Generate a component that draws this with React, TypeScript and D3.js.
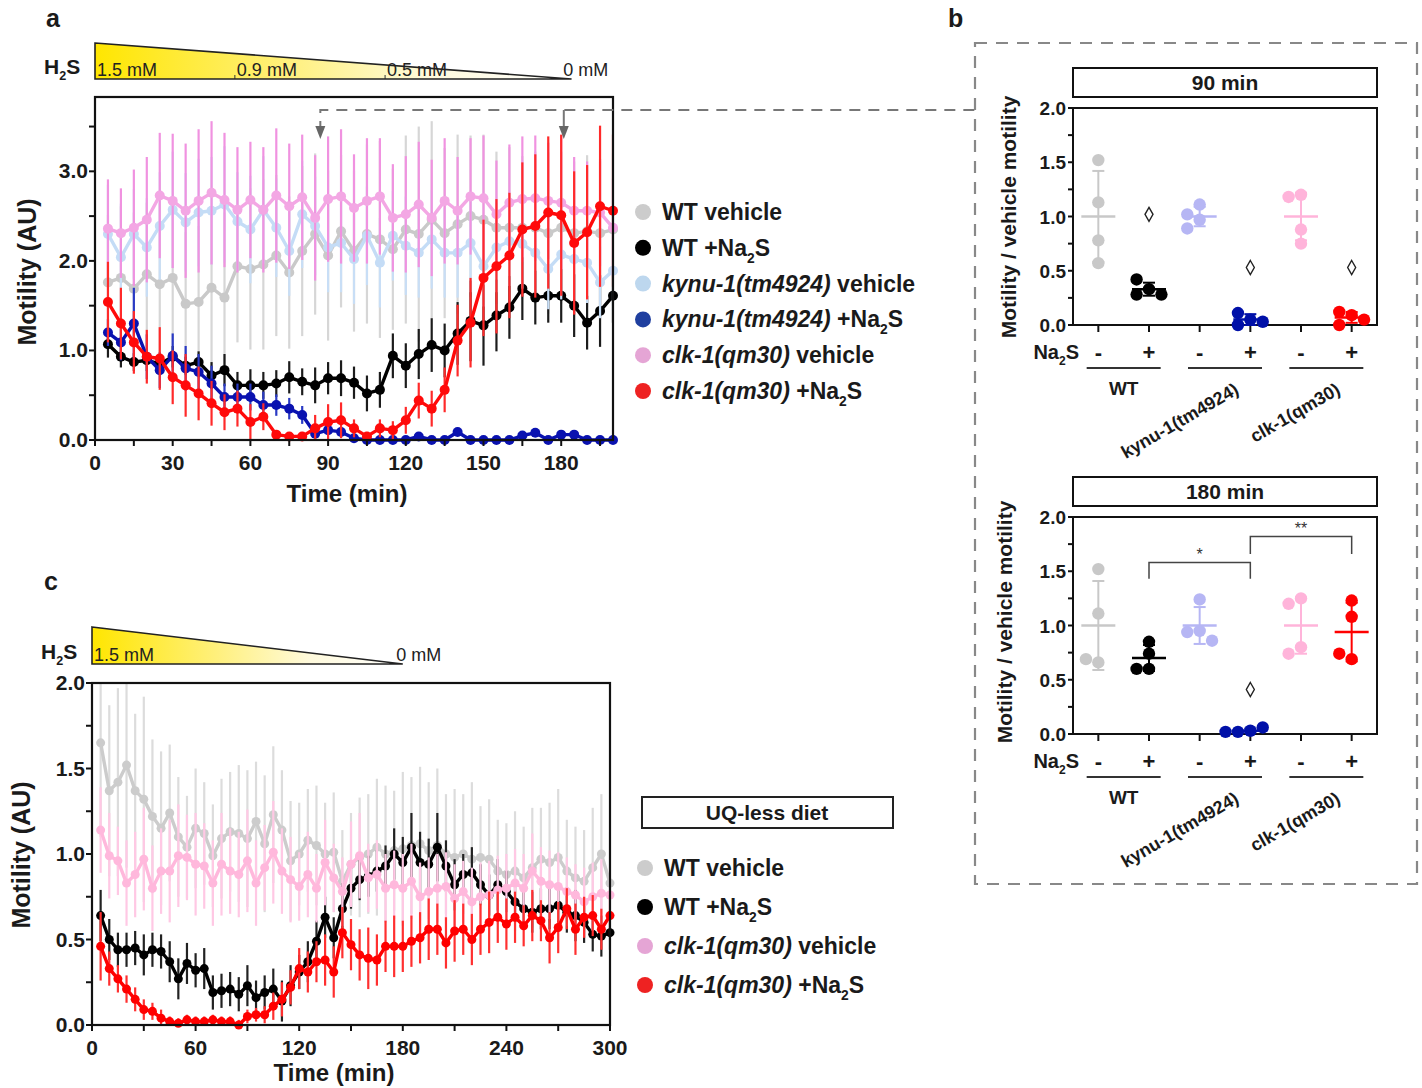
import React from "react";
import * as d3 from "d3";

const FONT = "'Liberation Sans', Arial, Helvetica, sans-serif";

// ---------- panel a : time course, 5 min bins ----------
const timesA = [5, 10, 15, 20, 25, 30, 35, 40, 45, 50, 55, 60, 65, 70, 75, 80, 85, 90, 95, 100,
  105, 110, 115, 120, 125, 130, 135, 140, 145, 150, 155, 160, 165, 170, 175, 180, 185, 190, 195, 200];

const wtVehA = [1.76, 1.81, 1.69, 1.85, 1.74, 1.81, 1.52, 1.54, 1.70, 1.59, 1.94, 1.91, 1.96, 2.06, 1.87, 2.11, 2.30, 2.06, 2.33, 2.11,
  2.30, 2.24, 2.13, 2.35, 2.30, 2.46, 2.31, 2.41, 2.50, 2.46, 2.37, 2.37, 2.37, 2.37, 2.31, 2.37, 2.31, 2.33, 2.31, 2.35];
const wtVehSemA = [0.75, 0.8, 0.85, 0.8, 0.9, 0.85, 0.8, 0.85, 0.9, 0.95, 0.85, 0.9, 0.95, 0.9, 0.85, 0.95, 0.9, 0.95, 0.85, 0.9,
  1.0, 1.1, 0.9, 1.05, 1.2, 1.1, 0.95, 1.0, 0.9, 0.95, 0.85, 0.9, 0.8, 0.85, 0.9, 0.85, 0.8, 0.85, 0.8, 0.85];

const wtNaA = [1.07, 0.93, 0.87, 0.89, 0.85, 0.93, 0.83, 0.87, 0.72, 0.78, 0.61, 0.61, 0.61, 0.63, 0.70, 0.65, 0.61, 0.69, 0.69, 0.64,
  0.52, 0.56, 0.94, 0.83, 0.96, 1.06, 1.00, 1.19, 1.33, 1.28, 1.39, 1.48, 1.69, 1.59, 1.61, 1.61, 1.50, 1.31, 1.44, 1.61];
const wtNaSemA = [0.15, 0.12, 0.1, 0.12, 0.1, 0.12, 0.1, 0.12, 0.15, 0.18, 0.15, 0.18, 0.15, 0.15, 0.18, 0.15, 0.2, 0.18, 0.2, 0.18,
  0.2, 0.2, 0.25, 0.25, 0.28, 0.3, 0.3, 0.35, 0.45, 0.45, 0.4, 0.35, 0.35, 0.3, 0.3, 0.3, 0.35, 0.3, 0.4, 0.3];

const kyVehA = [2.30, 2.04, 2.30, 2.15, 2.39, 2.57, 2.43, 2.54, 2.56, 2.63, 2.44, 2.35, 2.57, 2.37, 2.11, 2.52, 2.39, 2.15, 2.20, 2.02,
  2.28, 1.98, 2.28, 2.17, 2.09, 2.24, 2.09, 2.09, 2.20, 1.94, 2.15, 2.22, 2.19, 2.09, 1.91, 2.07, 2.02, 1.98, 1.76, 1.89];
const kyVehSemA = [0.55, 0.6, 0.5, 0.55, 0.6, 0.65, 0.55, 0.6, 0.6, 0.65, 0.55, 0.6, 0.6, 0.55, 0.5, 0.6, 0.55, 0.5, 0.55, 0.5,
  0.55, 0.5, 0.5, 0.55, 0.5, 0.55, 0.5, 0.5, 0.55, 0.45, 0.5, 0.5, 0.5, 0.45, 0.45, 0.5, 0.45, 0.45, 0.4, 0.45];

const kyNaA = [1.20, 1.09, 1.30, 0.93, 0.78, 0.94, 0.80, 0.76, 0.63, 0.48, 0.48, 0.48, 0.39, 0.39, 0.35, 0.28, 0.07, 0.11, 0.09, 0.02,
  0.00, 0.00, 0.00, 0.00, 0.04, 0.00, 0.00, 0.09, 0.00, 0.00, 0.00, 0.00, 0.05, 0.08, 0.00, 0.06, 0.06, 0.00, 0.00, 0.00];
const kyNaSemA = [0.15, 0.2, 0.4, 0.25, 0.2, 0.25, 0.25, 0.2, 0.2, 0.15, 0.15, 0.15, 0.15, 0.12, 0.12, 0.1, 0.05, 0.05, 0.05, 0.02,
  0.02, 0.02, 0.02, 0.02, 0.03, 0.02, 0.02, 0.03, 0.02, 0.02, 0.02, 0.02, 0.03, 0.03, 0.02, 0.03, 0.03, 0.02, 0.02, 0.02];

const clkVehA = [2.36, 2.31, 2.37, 2.46, 2.73, 2.67, 2.56, 2.67, 2.76, 2.68, 2.57, 2.68, 2.57, 2.73, 2.61, 2.71, 2.48, 2.69, 2.72, 2.59,
  2.67, 2.72, 2.48, 2.52, 2.63, 2.48, 2.67, 2.56, 2.72, 2.70, 2.52, 2.65, 2.69, 2.70, 2.67, 2.65, 2.56, 2.56, 2.54, 2.37];
const clkVehSemA = [0.55, 0.5, 0.65, 0.7, 0.7, 0.75, 0.75, 0.8, 0.8, 0.75, 0.7, 0.65, 0.7, 0.75, 0.7, 0.7, 0.7, 0.7, 0.75, 0.6,
  0.7, 0.65, 0.6, 0.65, 0.7, 0.65, 0.7, 0.6, 0.65, 0.7, 0.6, 0.65, 0.7, 0.7, 0.65, 0.75, 0.6, 0.55, 0.6, 0.55];

const clkNaA = [1.54, 1.30, 1.09, 0.93, 0.91, 0.70, 0.61, 0.52, 0.41, 0.31, 0.35, 0.20, 0.26, 0.06, 0.04, 0.04, 0.13, 0.20, 0.22, 0.13,
  0.04, 0.13, 0.11, 0.22, 0.44, 0.35, 0.56, 1.11, 1.31, 1.81, 1.94, 2.06, 2.35, 2.39, 2.54, 2.51, 2.20, 2.32, 2.61, 2.56];
const clkNaSemA = [0.45, 0.4, 0.35, 0.3, 0.35, 0.3, 0.35, 0.3, 0.25, 0.2, 0.2, 0.2, 0.15, 0.05, 0.04, 0.05, 0.15, 0.2, 0.2, 0.1,
  0.05, 0.1, 0.1, 0.15, 0.2, 0.2, 0.25, 0.4, 0.5, 0.65, 0.75, 0.7, 0.75, 0.8, 0.85, 0.9, 0.8, 0.75, 0.9, 0.85];

const h2sLabelsA = ["1.5 mM", "0.9 mM", "0.5 mM", "0 mM"];
const h2sTimesA = [0, 54, 112, 180];

// ---------- panel c : UQ-less diet, 5 min bins ----------
const timesC = [5, 10, 15, 20, 25, 30, 35, 40, 45, 50, 55, 60, 65, 70, 75, 80, 85, 90, 95, 100,
  105, 110, 115, 120, 125, 130, 135, 140, 145, 150, 155, 160, 165, 170, 175, 180, 185, 190, 195, 200,
  205, 210, 215, 220, 225, 230, 235, 240, 245, 250, 255, 260, 265, 270, 275, 280, 285, 290, 295, 300];

const wtVehC = [1.65, 1.37, 1.42, 1.52, 1.37, 1.32, 1.22, 1.15, 1.24, 1.10, 1.04, 1.15, 1.12, 0.99, 1.09, 1.13, 1.12, 1.09, 1.19, 1.06,
  1.23, 1.14, 0.96, 1.00, 1.08, 1.05, 1.00, 1.01, 0.84, 0.94, 0.98, 1.00, 1.04, 1.00, 1.02, 1.03, 1.05, 1.06, 1.02, 1.05,
  1.00, 0.98, 1.00, 0.97, 0.98, 0.97, 0.90, 0.88, 0.90, 0.86, 0.92, 0.97, 0.95, 0.98, 0.90, 0.86, 0.84, 0.92, 1.00, 0.83];
const wtVehSemC = [0.55, 0.5, 0.55, 0.6, 0.45, 0.6, 0.45, 0.45, 0.4, 0.35, 0.3, 0.35, 0.3, 0.3, 0.35, 0.35, 0.4, 0.4, 0.35, 0.4,
  0.4, 0.35, 0.35, 0.3, 0.3, 0.35, 0.3, 0.35, 0.3, 0.3, 0.35, 0.35, 0.4, 0.4, 0.35, 0.45, 0.4, 0.45, 0.4, 0.45,
  0.35, 0.4, 0.35, 0.45, 0.3, 0.35, 0.3, 0.3, 0.35, 0.3, 0.35, 0.3, 0.35, 0.4, 0.3, 0.3, 0.3, 0.35, 0.35, 0.3];

const wtNaC = [0.64, 0.50, 0.44, 0.44, 0.45, 0.41, 0.44, 0.43, 0.37, 0.27, 0.36, 0.32, 0.33, 0.19, 0.20, 0.21, 0.18, 0.23, 0.16, 0.19,
  0.21, 0.14, 0.23, 0.31, 0.37, 0.49, 0.63, 0.51, 0.68, 0.80, 0.85, 0.87, 0.90, 0.93, 1.00, 0.95, 1.04, 0.95, 0.94, 1.04,
  0.93, 0.82, 0.88, 0.89, 0.82, 0.76, 0.82, 0.78, 0.72, 0.68, 0.66, 0.68, 0.68, 0.70, 0.66, 0.64, 0.60, 0.53, 0.52, 0.54];
const wtNaSemC = [0.15, 0.12, 0.1, 0.1, 0.1, 0.12, 0.1, 0.1, 0.12, 0.12, 0.12, 0.1, 0.12, 0.1, 0.1, 0.1, 0.1, 0.12, 0.1, 0.1,
  0.12, 0.12, 0.12, 0.1, 0.12, 0.12, 0.12, 0.12, 0.15, 0.12, 0.12, 0.12, 0.12, 0.12, 0.15, 0.15, 0.2, 0.18, 0.15, 0.2,
  0.15, 0.15, 0.12, 0.15, 0.12, 0.12, 0.15, 0.12, 0.12, 0.12, 0.12, 0.12, 0.12, 0.1, 0.12, 0.15, 0.12, 0.1, 0.12, 0.1];

const clkVehC = [1.14, 0.99, 0.96, 0.83, 0.88, 0.97, 0.80, 0.90, 0.90, 0.99, 0.98, 0.94, 0.93, 0.83, 0.94, 0.90, 0.88, 0.96, 0.83, 0.92,
  1.01, 0.90, 0.85, 0.81, 0.88, 0.80, 0.95, 0.86, 0.78, 0.94, 0.99, 0.86, 0.88, 0.80, 0.82, 0.80, 0.84, 0.75, 0.78, 0.80,
  0.81, 0.74, 0.78, 0.72, 0.75, 0.76, 0.79, 0.80, 0.83, 0.80, 0.90, 0.84, 0.82, 0.81, 0.78, 0.76, 0.72, 0.75, 0.77, 0.76];
const clkVehSemC = [0.25, 0.25, 0.2, 0.25, 0.25, 0.3, 0.25, 0.25, 0.3, 0.3, 0.25, 0.3, 0.25, 0.25, 0.3, 0.25, 0.25, 0.3, 0.25, 0.25,
  0.3, 0.25, 0.25, 0.2, 0.25, 0.2, 0.25, 0.2, 0.2, 0.25, 0.25, 0.2, 0.2, 0.2, 0.2, 0.2, 0.22, 0.2, 0.2, 0.2,
  0.2, 0.2, 0.18, 0.2, 0.2, 0.2, 0.2, 0.2, 0.2, 0.2, 0.22, 0.2, 0.2, 0.2, 0.2, 0.18, 0.2, 0.2, 0.2, 0.18];

const clkNaC = [0.46, 0.33, 0.27, 0.21, 0.15, 0.09, 0.08, 0.04, 0.02, 0.01, 0.03, 0.02, 0.02, 0.03, 0.02, 0.02, 0.00, 0.05, 0.06, 0.06,
  0.11, 0.15, 0.22, 0.33, 0.31, 0.37, 0.38, 0.31, 0.54, 0.47, 0.41, 0.39, 0.38, 0.46, 0.46, 0.46, 0.49, 0.51, 0.56, 0.56,
  0.48, 0.55, 0.56, 0.50, 0.56, 0.60, 0.63, 0.59, 0.63, 0.58, 0.64, 0.61, 0.51, 0.57, 0.68, 0.56, 0.63, 0.64, 0.56, 0.64];
const clkNaSemC = [0.2, 0.1, 0.08, 0.08, 0.07, 0.06, 0.05, 0.05, 0.03, 0.03, 0.03, 0.03, 0.03, 0.03, 0.03, 0.03, 0.03, 0.04, 0.04, 0.05,
  0.08, 0.1, 0.1, 0.12, 0.12, 0.12, 0.15, 0.15, 0.15, 0.15, 0.15, 0.18, 0.15, 0.15, 0.18, 0.15, 0.15, 0.15, 0.18, 0.15,
  0.15, 0.18, 0.15, 0.15, 0.15, 0.18, 0.15, 0.15, 0.15, 0.12, 0.15, 0.12, 0.15, 0.15, 0.12, 0.15, 0.12, 0.12, 0.12, 0.12];

const h2sLabelsC = ["1.5 mM", "0 mM"];
const h2sTimesC = [0, 175];

// ---------- panel b : normalised motility ----------
const strainsB = ["WT", "kynu-1(tm4924)", "clk-1(qm30)"];
const treatB = ["-", "+", "-", "+", "-", "+"];
const pts90 = [[1.52, 1.13, 0.78, 0.57], [0.33, 0.42, 0.28, 0.28], [1.11, 1.02, 0.97, 0.89],
  [0.05, 0.11, 0.03, 0.0], [1.2, 1.18, 0.88, 0.75], [0.09, 0.12, 0.05, 0.0]];
const mean90 = [1.0, 0.33, 1.0, 0.05, 1.0, 0.07];
const sd90 = [0.42, 0.06, 0.09, 0.05, 0.22, 0.05];
const diamonds90 = [[1, 1.02], [3, 0.53], [5, 0.53]];

const pts180 = [[1.52, 1.11, 0.66, 0.69], [0.85, 0.74, 0.60, 0.60], [1.24, 0.95, 0.94, 0.86],
  [0.03, 0.02, 0.06, 0.02], [1.25, 1.2, 0.8, 0.74], [1.23, 1.08, 0.69, 0.74]];
const mean180 = [1.0, 0.70, 1.0, 0.03, 1.0, 0.94];
const sd180 = [0.41, 0.12, 0.17, 0.02, 0.26, 0.27];
const diamonds180 = [[3, 0.41]];
const brackets180 = [{ a: 1, b: 3, v: 1.58, leg: 1.43, label: "*" }, { a: 3, b: 5, v: 1.82, leg: 1.66, label: "**" }];

const colorsB = ["#c8c8c8", "#000000", "#b6b6f4", "#0010a8", "#ffb4da", "#ff0000"];

type Part = { t: string; i?: boolean; sub?: boolean };
type Series = { values: number[]; sem: number[]; line: string; bar: string };

function Txt({ parts, x, y, size, anchor = "start", weight = "bold", fill = "#1a1a1a", transform }:
  { parts: Part[]; x: number; y: number; size: number; anchor?: string; weight?: string; fill?: string; transform?: string }) {
  let shifted = false;
  return (
    <text x={x} y={y} fontSize={size} fontFamily={FONT} fontWeight={weight} textAnchor={anchor} fill={fill} transform={transform}>
      {parts.map((p, k) => {
        let dy = 0;
        if (p.sub && !shifted) { dy = size * 0.3; shifted = true; }
        else if (!p.sub && shifted) { dy = -size * 0.3; shifted = false; }
        return (
          <tspan key={k} dy={dy} fontSize={p.sub ? size * 0.6 : size} fontStyle={p.i ? "italic" : "normal"}>{p.t}</tspan>
        );
      })}
    </text>
  );
}

const na2s: Part[] = [{ t: "Na" }, { t: "2", sub: true }, { t: "S" }];
const h2s: Part[] = [{ t: "H" }, { t: "2", sub: true }, { t: "S" }];

function H2SBar({ id, x, t0, t1, yTop, yBot, labels, times, labelX, labelY }:
  { id: string; x: d3.ScaleLinear<number, number>; t0: number; t1: number; yTop: number; yBot: number;
    labels: string[]; times: number[]; labelX: number; labelY: number }) {
  const pts = `${x(t0)},${yTop} ${x(t1)},${yBot} ${x(t0)},${yBot}`;
  return (
    <g>
      <defs>
        <linearGradient id={id} x1="0" x2="1" y1="0" y2="0">
          <stop offset="0" stopColor="#ffe600" />
          <stop offset="0.4" stopColor="#fff07c" />
          <stop offset="0.7" stopColor="#fffadc" />
          <stop offset="1" stopColor="#ffffff" />
        </linearGradient>
      </defs>
      <polygon points={pts} fill={`url(#${id})`} stroke="none" />
      {labels.map((l, k) => (
        <g key={l}>
          {k > 0 && k < labels.length - 1 && <line x1={x(times[k])} x2={x(times[k])} y1={yBot - 4} y2={yBot} stroke="#333" strokeWidth={1} />}
          <text x={x(times[k]) + 2} y={yBot - 3} fontSize={18} fontFamily={FONT} fill="#222">{l}</text>
        </g>
      ))}
      <polygon points={pts} fill="none" stroke="#222" strokeWidth={1.6} />
      <Txt parts={h2s} x={labelX} y={labelY} size={21} />
    </g>
  );
}

function TimePanel({ id, times, series, x, y, yTicks, yLabelEvery, xTicks, xLabelEvery, r }:
  { id: string; times: number[]; series: Series[]; x: d3.ScaleLinear<number, number>; y: d3.ScaleLinear<number, number>;
    yTicks: number[]; yLabelEvery: number; xTicks: number[]; xLabelEvery: number; r: number }) {
  const [l, rt] = x.range();
  const [b, t] = y.range();
  const line = d3.line<number>().x((_, i) => x(times[i])).y(d => y(d));
  const fmt = d3.format(".1f");
  return (
    <g>
      <defs>
        <clipPath id={id}><rect x={l} y={t} width={rt - l} height={b - t} /></clipPath>
      </defs>
      {series.map((s, si) => (
        <g key={si}>
          <g clipPath={`url(#${id})`}>
            {s.values.map((v, i) => (
              <line key={i} x1={x(times[i])} x2={x(times[i])} y1={y(v - s.sem[i])} y2={y(v + s.sem[i])} stroke={s.bar} strokeWidth={2.2} />
            ))}
          </g>
          <path d={line(s.values) || ""} fill="none" stroke={s.line} strokeWidth={3.4} strokeLinejoin="round" />
          {s.values.map((v, i) => <circle key={i} cx={x(times[i])} cy={y(v)} r={r} fill={s.line} />)}
        </g>
      ))}
      <rect x={l} y={t} width={rt - l} height={b - t} fill="none" stroke="#111" strokeWidth={2.2} />
      {yTicks.map(v => (
        <g key={v}>
          <line x1={l - 6} x2={l} y1={y(v)} y2={y(v)} stroke="#111" strokeWidth={2} />
          {Math.abs(v / yLabelEvery - Math.round(v / yLabelEvery)) < 1e-6 &&
            <text x={l - 7} y={y(v) + 7} fontSize={21} fontFamily={FONT} fontWeight="bold" textAnchor="end" fill="#1a1a1a">{fmt(v)}</text>}
        </g>
      ))}
      {xTicks.map(v => (
        <g key={v}>
          <line x1={x(v)} x2={x(v)} y1={b} y2={b + 6} stroke="#111" strokeWidth={2} />
          {v % xLabelEvery === 0 &&
            <text x={x(v)} y={b + 30} fontSize={21} fontFamily={FONT} fontWeight="bold" textAnchor="middle" fill="#1a1a1a">{v}</text>}
        </g>
      ))}
    </g>
  );
}

function Legend({ items, x, y0, dy }: { items: { parts: Part[]; color: string }[]; x: number; y0: number; dy: number }) {
  return (
    <g>
      {items.map((it, k) => (
        <g key={k}>
          <circle cx={x} cy={y0 + k * dy} r={8} fill={it.color} />
          <Txt parts={it.parts} x={x + 19} y={y0 + k * dy + 8} size={23} />
        </g>
      ))}
    </g>
  );
}

function swarm(vals: number[], y: d3.ScaleLinear<number, number>, r: number) {
  const placed: { dx: number; py: number }[] = [];
  const step = 2 * r;
  const cands = [0, -step, step, -2 * step, 2 * step];
  return vals.map(v => {
    const py = y(v);
    let dx = 0;
    for (const c of cands) {
      if (placed.every(p => Math.hypot(p.dx - c, p.py - py) >= 1.7 * r)) { dx = c; break; }
    }
    placed.push({ dx, py });
    return { dx, py };
  });
}

function DotPanel({ top, title, pts, means, sds, diamonds, brackets }:
  { top: number; title: string; pts: number[][]; means: number[]; sds: number[]; diamonds: number[][];
    brackets: { a: number; b: number; v: number; leg: number; label: string }[] }) {
  const l = 1073, r = 1377, bot = top + 217;
  const y = d3.scaleLinear().domain([0, 2]).range([bot, top]);
  const xc = d3.scalePoint<number>().domain(d3.range(6)).range([l, r]).padding(0.5);
  const yt = d3.range(0, 2.001, 0.25);
  const pr = 6.2;
  return (
    <g>
      <rect x={l} y={top - 40} width={r - l} height={29} fill="#fff" stroke="#111" strokeWidth={2} />
      <text x={(l + r) / 2} y={top - 18} fontSize={21} fontFamily={FONT} fontWeight="bold" textAnchor="middle" fill="#1a1a1a">{title}</text>
      <rect x={l} y={top} width={r - l} height={bot - top} fill="none" stroke="#111" strokeWidth={2} />
      {yt.map(v => (
        <g key={v}>
          <line x1={l - 5} x2={l} y1={y(v)} y2={y(v)} stroke="#111" strokeWidth={2} />
          {Math.abs(v * 2 - Math.round(v * 2)) < 1e-6 &&
            <text x={l - 7} y={y(v) + 7} fontSize={19} fontFamily={FONT} fontWeight="bold" textAnchor="end" fill="#1a1a1a">{v.toFixed(1)}</text>}
        </g>
      ))}
      {treatB.map((tr, i) => (
        <g key={i}>
          <line x1={xc(i)!} x2={xc(i)!} y1={bot} y2={bot + 7} stroke="#111" strokeWidth={2} />
          <text x={xc(i)!} y={bot + 35} fontSize={22} fontFamily={FONT} fontWeight="bold" textAnchor="middle" fill="#1a1a1a">{tr}</text>
        </g>
      ))}
      <Txt parts={na2s} x={1079} y={bot + 34} size={20} anchor="end" />
      {strainsB.map((s, g) => {
        const c = (xc(2 * g)! + xc(2 * g + 1)!) / 2;
        return (
          <g key={s}>
            <line x1={c - 37} x2={c + 37} y1={bot + 43} y2={bot + 43} stroke="#333" strokeWidth={2} />
            {g === 0
              ? <text x={c} y={bot + 70} fontSize={19} fontFamily={FONT} fontWeight="bold" textAnchor="middle" fill="#1a1a1a">{s}</text>
              : <text x={c + 15} y={bot + 68} fontSize={18} fontFamily={FONT} fontWeight="bold" textAnchor="end" fill="#1a1a1a"
                  transform={`rotate(-30 ${c + 15} ${bot + 68})`}>{s}</text>}
          </g>
        );
      })}
      {pts.map((vals, i) => {
        const cx = xc(i)!;
        const col = colorsB[i];
        const sw = swarm(vals, y, pr);
        return (
          <g key={i}>
            <line x1={cx} x2={cx} y1={y(means[i] - sds[i])} y2={y(means[i] + sds[i])} stroke={col} strokeWidth={2} />
            <line x1={cx - 6} x2={cx + 6} y1={y(means[i] + sds[i])} y2={y(means[i] + sds[i])} stroke={col} strokeWidth={2} />
            <line x1={cx - 6} x2={cx + 6} y1={y(means[i] - sds[i])} y2={y(means[i] - sds[i])} stroke={col} strokeWidth={2} />
            {sw.map((p, k) => <circle key={k} cx={cx + p.dx} cy={p.py} r={pr} fill={col} />)}
            <line x1={cx - 17} x2={cx + 17} y1={y(means[i])} y2={y(means[i])} stroke={col} strokeWidth={2.5} />
          </g>
        );
      })}
      {diamonds.map(([i, v], k) => {
        const cx = xc(i)!, cy = y(v);
        return <path key={k} d={`M${cx},${cy - 7} L${cx + 4},${cy} L${cx},${cy + 7} L${cx - 4},${cy} Z`} fill="none" stroke="#222" strokeWidth={1.4} />;
      })}
      {brackets.map((br, k) => (
        <g key={k}>
          <path d={`M${xc(br.a)},${y(br.leg)} V${y(br.v)} H${xc(br.b)} V${y(br.leg)}`} fill="none" stroke="#444" strokeWidth={1.5} />
          <text x={(xc(br.a)! + xc(br.b)!) / 2} y={y(br.v) - 3} fontSize={16} fontFamily={FONT} textAnchor="middle" fill="#333">{br.label}</text>
        </g>
      ))}
    </g>
  );
}

export default function App() {
  const xA = d3.scaleLinear().domain([0, 200]).range([95, 613]);
  const yA = d3.scaleLinear().domain([0, 3.83]).range([440, 97]);
  const xC = d3.scaleLinear().domain([0, 300]).range([92, 610]);
  const yC = d3.scaleLinear().domain([0, 2]).range([1025, 683]);

  const seriesA: Series[] = [
    { values: wtVehA, sem: wtVehSemA, line: "#c9c9c9", bar: "#d6d6d6" },
    { values: wtNaA, sem: wtNaSemA, line: "#000000", bar: "#1c1c1c" },
    { values: kyVehA, sem: kyVehSemA, line: "#c4dcf6", bar: "#c8def6" },
    { values: kyNaA, sem: kyNaSemA, line: "#0a12b0", bar: "#2a3ac4" },
    { values: clkVehA, sem: clkVehSemA, line: "#f3a7e4", bar: "#f092e0" },
    { values: clkNaA, sem: clkNaSemA, line: "#ff0a0a", bar: "#ff2a2a" },
  ];
  const seriesC: Series[] = [
    { values: wtVehC, sem: wtVehSemC, line: "#cccccc", bar: "#dcdcdc" },
    { values: wtNaC, sem: wtNaSemC, line: "#000000", bar: "#222222" },
    { values: clkVehC, sem: clkVehSemC, line: "#ffb8dc", bar: "#ffc8e4" },
    { values: clkNaC, sem: clkNaSemC, line: "#ff0000", bar: "#ff3030" },
  ];

  const legendA = [
    { parts: [{ t: "WT vehicle" }], color: "#cccccc" },
    { parts: [{ t: "WT +Na" }, { t: "2", sub: true }, { t: "S" }], color: "#000000" },
    { parts: [{ t: "kynu-1(tm4924)", i: true }, { t: " vehicle" }], color: "#bdd7ee" },
    { parts: [{ t: "kynu-1(tm4924)", i: true }, { t: " +Na" }, { t: "2", sub: true }, { t: "S" }], color: "#1f3f9f" },
    { parts: [{ t: "clk-1(qm30)", i: true }, { t: " vehicle" }], color: "#e5a5d5" },
    { parts: [{ t: "clk-1(qm30)", i: true }, { t: " +Na" }, { t: "2", sub: true }, { t: "S" }], color: "#ee2222" },
  ];
  const legendC = [legendA[0], legendA[1], legendA[4], legendA[5]];

  const arrowT = [87, 181];

  return (
    <svg width={1422} height={1088} style={{ position: "absolute", left: 0, top: 0, background: "#fff" }}>
      <rect width={1422} height={1088} fill="#fff" />
      {/* panel a */}
      <text x={46} y={27} fontSize={25} fontFamily={FONT} fontWeight="bold" fill="#1a1a1a">a</text>
      <H2SBar id="gradA" x={xA} t0={0} t1={184} yTop={43} yBot={79} labels={h2sLabelsA} times={h2sTimesA} labelX={44} labelY={74} />
      <TimePanel id="clipA" times={timesA} series={seriesA} x={xA} y={yA} yTicks={d3.range(0, 3.6, 0.5)} yLabelEvery={1}
        xTicks={d3.range(0, 196, 15)} xLabelEvery={30} r={5} />
      <text transform="translate(36,272) rotate(-90)" fontSize={25} fontFamily={FONT} fontWeight="bold" textAnchor="middle" fill="#1a1a1a">Motility (AU)</text>
      <text x={347} y={502} fontSize={24} fontFamily={FONT} fontWeight="bold" textAnchor="middle" fill="#1a1a1a">Time (min)</text>
      <path d={`M${xA(arrowT[0])},132 V110 H975`} fill="none" stroke="#777" strokeWidth={2} strokeDasharray="11 8" />
      <line x1={xA(arrowT[1])} x2={xA(arrowT[1])} y1={110} y2={132} stroke="#777" strokeWidth={2} />
      {arrowT.map(t => (
        <path key={t} d={`M${xA(t) - 5},126 L${xA(t) + 5},126 L${xA(t)},139 Z`} fill="#666" />
      ))}
      <Legend items={legendA} x={643} y0={212} dy={35.8} />

      {/* panel b */}
      <text x={948} y={27} fontSize={25} fontFamily={FONT} fontWeight="bold" fill="#1a1a1a">b</text>
      <rect x={975} y={43} width={442} height={841} fill="none" stroke="#888" strokeWidth={2.2} strokeDasharray="12 9" />
      <DotPanel top={108} title="90 min" pts={pts90} means={mean90} sds={sd90} diamonds={diamonds90} brackets={[]} />
      <DotPanel top={517} title="180 min" pts={pts180} means={mean180} sds={sd180} diamonds={diamonds180} brackets={brackets180} />
      <text transform="translate(1016,217) rotate(-90)" fontSize={21} fontFamily={FONT} fontWeight="bold" textAnchor="middle" fill="#1a1a1a">Motility / vehicle motility</text>
      <text transform="translate(1012,622) rotate(-90)" fontSize={21} fontFamily={FONT} fontWeight="bold" textAnchor="middle" fill="#1a1a1a">Motility / vehicle motility</text>

      {/* panel c */}
      <text x={44} y={590} fontSize={25} fontFamily={FONT} fontWeight="bold" fill="#1a1a1a">c</text>
      <H2SBar id="gradC" x={xC} t0={0} t1={180} yTop={627} yBot={664} labels={h2sLabelsC} times={h2sTimesC} labelX={41} labelY={659} />
      <TimePanel id="clipC" times={timesC} series={seriesC} x={xC} y={yC} yTicks={d3.range(0, 2.01, 0.25)} yLabelEvery={0.5}
        xTicks={d3.range(0, 301, 30)} xLabelEvery={60} r={4.5} />
      <text transform="translate(30,855) rotate(-90)" fontSize={25} fontFamily={FONT} fontWeight="bold" textAnchor="middle" fill="#1a1a1a">Motility (AU)</text>
      <text x={334} y={1081} fontSize={24} fontFamily={FONT} fontWeight="bold" textAnchor="middle" fill="#1a1a1a">Time (min)</text>
      <rect x={642} y={797} width={251} height={31} fill="#fff" stroke="#222" strokeWidth={2} />
      <text x={767} y={820} fontSize={21} fontFamily={FONT} fontWeight="bold" textAnchor="middle" fill="#1a1a1a">UQ-less diet</text>
      <Legend items={legendC} x={645} y0={868} dy={39} />
    </svg>
  );
}
